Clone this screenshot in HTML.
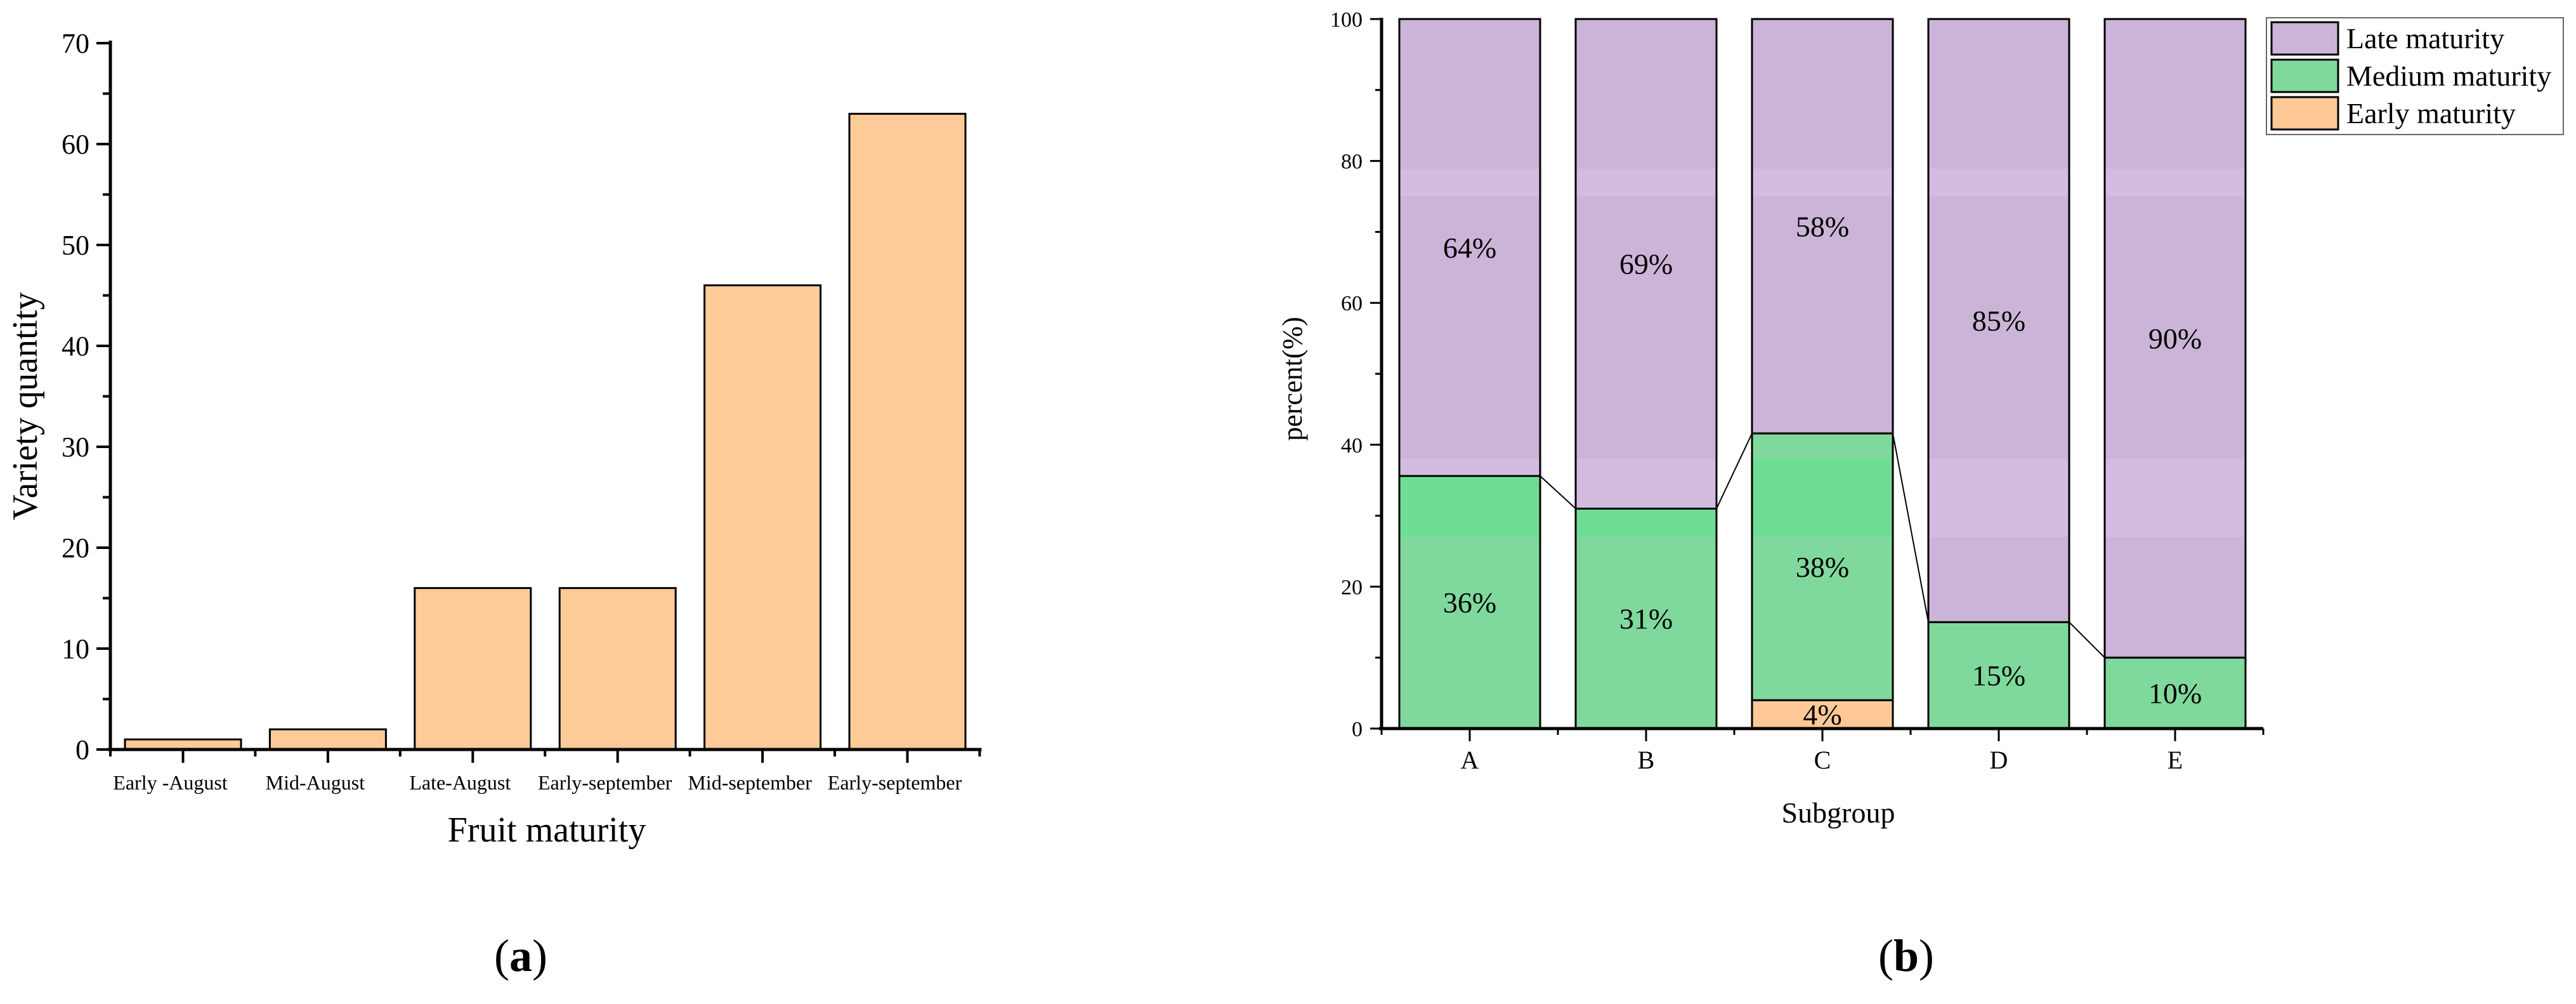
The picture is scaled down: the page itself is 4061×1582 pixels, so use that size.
<!DOCTYPE html>
<html><head><meta charset="utf-8">
<style>
html,body{margin:0;padding:0;background:#fff;}
svg, svg text{font-family:"Liberation Serif","DejaVu Serif",serif;}
</style></head>
<body>
<svg id="fig" width="4061" height="1577" viewBox="0 0 4061 1577" xmlns="http://www.w3.org/2000/svg" font-family="Liberation Serif, serif">
  <g id="chartA"></g>
  <g id="chartB"></g>
  <text x="821" y="1530" font-size="72" text-anchor="middle" font-family="Liberation Serif, serif">(<tspan font-weight="bold">a</tspan>)</text>
  <text x="3005" y="1530" font-size="72" text-anchor="middle" font-family="Liberation Serif, serif">(<tspan font-weight="bold">b</tspan>)</text>
</svg>
<script>
// ---- Chart A data ----
const aCategories = ["Early -August","Mid-August","Late-August","Early-september","Mid-september","Early-september"];
const aValues = [1, 2, 16, 16, 46, 63];
const aTicks = [0,10,20,30,40,50,60,70];

// ---- Chart B data ----
const bCategories = ["A","B","C","D","E"];
const bEarly = [0, 0, 4, 0, 0];
const bMedium = [35.6, 31, 37.6, 15, 10];
const bLate = [64.4, 69, 58.4, 85, 90];
const bEarlyLabels = ["", "", "4%", "", ""];
const bMediumLabels = ["36%","31%","38%","15%","10%"];
const bLateLabels = ["64%","69%","58%","85%","90%"];
const bTicks = [0,20,40,60,80,100];
const bSeriesNames = ["Late maturity","Medium maturity","Early maturity"];

const NS = "http://www.w3.org/2000/svg";
const FONT = "Liberation Serif, serif";
function mk(parent, tag, attrs, text){
  const e = document.createElementNS(NS, tag);
  for (const k in attrs) e.setAttribute(k, attrs[k]);
  if (tag === 'text') e.setAttribute('font-family', FONT);
  if (text !== undefined) e.textContent = text;
  parent.appendChild(e);
  return e;
}

// ===== Chart A =====
(function(){
  const g = document.getElementById('chartA');
  const x0 = 174, y0 = 1181, yTop = 68, step = 228.4, bw = 183;
  const xEnd = x0 + 6*step;
  const yMax = 70;
  const ys = v => y0 - (v / yMax) * (y0 - yTop);
  const xc = i => 288.5 + i*step;
  aValues.forEach((v,i)=>{
    const r = mk(g,'rect',{x:xc(i)-bw/2,y:ys(v),width:bw,height:y0-ys(v),fill:'#FDCB98',stroke:'#000','stroke-width':3});
    
    
  });
  let ax = mk(g,'line',{x1:x0,y1:yTop-4,x2:x0,y2:y0+2,stroke:'#000','stroke-width':5});
  
  
  for (let v=0; v<=yMax; v+=5){
    const major = v%10===0;
    const t = mk(g,'line',{x1:major?152:162,y1:ys(v),x2:x0,y2:ys(v),stroke:'#000','stroke-width':4});
    
    
  }
  aTicks.forEach(v=>{
    const t = mk(g,'text',{x:141,y:ys(v)+15,'font-size':44,'text-anchor':'end'},String(v));
    
    
  });
  ax = mk(g,'line',{x1:x0-4,y1:y0,x2:xEnd+3,y2:y0,stroke:'#000','stroke-width':5});
  
  
  for (let i=0;i<=6;i++){
    const t = mk(g,'line',{x1:x0+i*step,y1:y0,x2:x0+i*step,y2:1192,stroke:'#000','stroke-width':4});
    
    
  }
  aCategories.forEach((c,i)=>{
    const t = mk(g,'line',{x1:xc(i),y1:y0,x2:xc(i),y2:1202,stroke:'#000','stroke-width':4});
    
    
    const l = mk(g,'text',{x:xc(i)-20,y:1244,'font-size':32,'text-anchor':'middle'},c);
    
    
  });
  let t = mk(g,'text',{x:862,y:1326,'font-size':56,'text-anchor':'middle'},'Fruit maturity');
  
  
  t = mk(g,'text',{x:0,y:0,'font-size':56,'text-anchor':'middle',transform:'translate(58,640) rotate(-90)'},'Variety quantity');
  
  
})();

// ===== Chart B =====
(function(){
  const g = document.getElementById('chartB');
  const x0 = 2178, y0 = 1148, yTop = 30, step = 278, bw = 222;
  const ys = v => y0 - (v/100)*(y0-yTop);
  const xc = i => x0 + step/2 + i*step;
  const xEnd = x0 + bCategories.length*step;
  const colLate = '#CBB4D8', colMed = '#80D99C', colEarly = '#FFC997';
  bCategories.forEach((c,i)=>{
    const l = xc(i)-bw/2;
    const e = bEarly[i], m = bMedium[i], la = bLate[i];
    const segs = [
      {v0:0, v1:e, fill:colEarly, name:'early', lab:bEarlyLabels[i], band:'#FFD0A0'},
      {v0:e, v1:e+m, fill:colMed, name:'medium', lab:bMediumLabels[i], band:'#6FDE95'},
      {v0:e+m, v1:e+m+la, fill:colLate, name:'late', lab:bLateLabels[i], band:'#D4BCE0'}
    ];
    segs.forEach(s=>{
      if (s.v1 - s.v0 <= 0) return;
      const r = mk(g,'rect',{x:l,y:ys(s.v1),width:bw,height:ys(s.v0)-ys(s.v1),fill:s.fill});
      
      
      [[75,78.9],[27,38]].forEach(bd=>{
        const lo = Math.max(bd[0], s.v0), hi = Math.min(bd[1], s.v1);
        if (hi > lo && s.name !== 'early'){
          const b = mk(g,'rect',{x:l,y:ys(hi),width:bw,height:ys(lo)-ys(hi),fill:s.band});
          
          
        }
      });
      const o = mk(g,'rect',{x:l,y:ys(s.v1),width:bw,height:ys(s.v0)-ys(s.v1),fill:'none',stroke:'#000','stroke-width':3});
      
      
      if (s.lab){
        const t = mk(g,'text',{x:xc(i),y:(ys(s.v0)+ys(s.v1))/2+16,'font-size':46,'text-anchor':'middle'},s.lab);
        
        
      }
    });
    if (i < bCategories.length-1){
      const v1 = bEarly[i]+bMedium[i], v2 = bEarly[i+1]+bMedium[i+1];
      const cl = mk(g,'line',{x1:xc(i)+bw/2,y1:ys(v1),x2:xc(i+1)-bw/2,y2:ys(v2),stroke:'#000','stroke-width':2});
      
      
    }
  });
  let ax = mk(g,'line',{x1:x0,y1:yTop-2,x2:x0,y2:y0+2,stroke:'#000','stroke-width':5});
  
  
  for (let v=0; v<=100; v+=10){
    const major = v%20===0;
    const t = mk(g,'line',{x1:major?2160:2168,y1:ys(v),x2:x0,y2:ys(v),stroke:'#000','stroke-width':3});
    
    
  }
  bTicks.forEach(v=>{
    const t = mk(g,'text',{x:2148,y:ys(v)+12,'font-size':34,'text-anchor':'end'},String(v));
    
    
  });
  ax = mk(g,'line',{x1:x0-4,y1:y0,x2:xEnd,y2:y0,stroke:'#000','stroke-width':5});
  
  
  for (let i=0;i<=bCategories.length;i++){
    const t = mk(g,'line',{x1:x0+i*step,y1:y0,x2:x0+i*step,y2:1158,stroke:'#000','stroke-width':3});
    
    
  }
  bCategories.forEach((c,i)=>{
    const t = mk(g,'line',{x1:xc(i),y1:y0,x2:xc(i),y2:1168,stroke:'#000','stroke-width':3});
    
    
    const l = mk(g,'text',{x:xc(i),y:1211,'font-size':40,'text-anchor':'middle'},c);
    
    
  });
  let t = mk(g,'text',{x:2898,y:1296,'font-size':46,'text-anchor':'middle'},'Subgroup');
  
  
  t = mk(g,'text',{x:0,y:0,'font-size':44,'text-anchor':'middle',transform:'translate(2052,597) rotate(-90)'},'percent(%)');
  
  
  const lg = mk(g,'g',{});
  
  
  const box = mk(lg,'rect',{x:3573,y:28,width:468,height:184,fill:'#fff',stroke:'#666','stroke-width':2});
  
  
  const cols = [colLate,colMed,colEarly];
  bSeriesNames.forEach((n,i)=>{
    const y = 35 + i*59;
    const s = mk(lg,'rect',{x:3581,y:y,width:105,height:51,fill:cols[i],stroke:'#000','stroke-width':3});
    
    
    const tx = mk(lg,'text',{x:3699,y:y+41,'font-size':46},n);
    
    
  });
})();
</script>
</body></html>
